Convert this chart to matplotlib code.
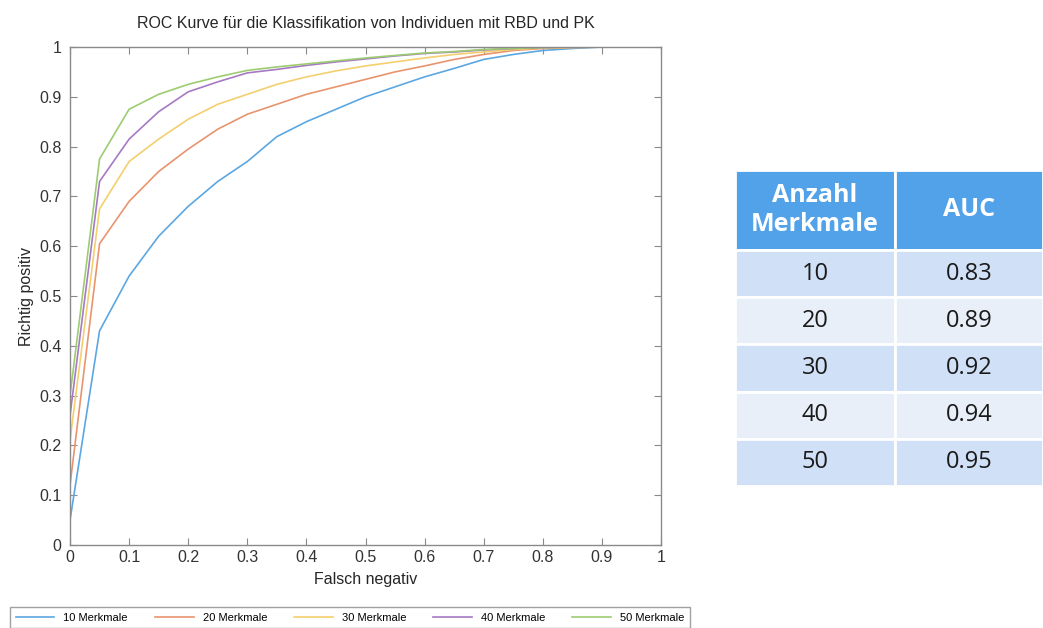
import numpy as np
import matplotlib
matplotlib.use("Agg")
from matplotlib import pyplot as plt
from matplotlib.ticker import FormatStrFormatter

plt.rcParams['font.family'] = ['Liberation Sans', 'DejaVu Sans']

# false negative axis samples
fpr = [0, 0.05, 0.1, 0.15, 0.2, 0.25, 0.3, 0.35, 0.4, 0.45, 0.5,
       0.55, 0.6, 0.65, 0.7, 0.75, 0.8, 0.85, 0.9, 0.95, 1.0]

tpr_10 = [0.05, 0.43, 0.54, 0.62, 0.68, 0.73, 0.77, 0.82, 0.85, 0.875, 0.90,
          0.92, 0.94, 0.957, 0.975, 0.985, 0.993, 0.997, 1.0, 1.0, 1.0]
tpr_20 = [0.12, 0.605, 0.69, 0.75, 0.795, 0.835, 0.865, 0.885, 0.905, 0.92, 0.935,
          0.95, 0.962, 0.975, 0.985, 0.993, 0.997, 0.999, 1.0, 1.0, 1.0]
tpr_30 = [0.21, 0.675, 0.77, 0.815, 0.855, 0.885, 0.905, 0.925, 0.94, 0.952, 0.962,
          0.97, 0.978, 0.985, 0.99, 0.995, 0.998, 0.999, 1.0, 1.0, 1.0]
tpr_40 = [0.26, 0.73, 0.815, 0.87, 0.91, 0.93, 0.948, 0.955, 0.963, 0.97, 0.976,
          0.982, 0.987, 0.99, 0.994, 0.997, 0.999, 1.0, 1.0, 1.0, 1.0]
tpr_50 = [0.30, 0.775, 0.875, 0.905, 0.925, 0.94, 0.953, 0.96, 0.966, 0.972, 0.978,
          0.983, 0.988, 0.991, 0.995, 0.997, 0.999, 1.0, 1.0, 1.0, 1.0]

labels = ['10 Merkmale', '20 Merkmale', '30 Merkmale', '40 Merkmale', '50 Merkmale']
colors = ['#5ba7e2', '#e8946e', '#f3cf6e', '#a679c4', '#9dcc70']

# table data
anzahl = ['10', '20', '30', '40', '50']
auc = ['0.83', '0.89', '0.92', '0.94', '0.95']

fig = plt.figure(figsize=(10.43, 6.28), dpi=100)
W, H = 1043, 628

ax = fig.add_axes([70 / W, 1 - 545 / H, (661 - 70) / W, (545 - 47) / H])
for y, lab, c in zip([tpr_10, tpr_20, tpr_30, tpr_40, tpr_50], labels, colors):
    ax.plot(fpr, y, color=c, lw=1.2, label=lab)

ax.set_xlim(0, 1)
ax.set_ylim(0, 1)
ax.set_xticks(np.arange(0, 1.01, 0.1))
ax.set_yticks(np.arange(0, 1.01, 0.1))
ax.xaxis.set_major_formatter(FormatStrFormatter('%g'))
ax.yaxis.set_major_formatter(FormatStrFormatter('%g'))
ax.tick_params(direction='in', top=True, right=True, length=5, width=0.8,
               color='#8a8a8a', labelcolor='#333333', labelsize=11.5)
ax.tick_params(axis='y', pad=6)
for s in ax.spines.values():
    s.set_color('#8a8a8a')
    s.set_linewidth(1.0)
ax.set_title('ROC Kurve für die Klassifikation von Individuen mit RBD und PK',
             fontsize=11.5, color='#262626', pad=14)
ax.set_xlabel('Falsch negativ', fontsize=11.5, color='#262626', labelpad=5)
ax.set_ylabel('Richtig positiv', fontsize=11.5, color='#262626', labelpad=4)

leg = fig.legend(loc='upper left', bbox_to_anchor=(10 / W, 0, 680 / W, 1 - 607 / H),
                 ncol=5, mode='expand', fontsize=8, frameon=True, fancybox=False,
                 handlelength=3.5, borderaxespad=0, borderpad=0.5)
leg.get_frame().set_edgecolor('#8a8a8a')
leg.get_frame().set_linewidth(1.0)

# table on the right
tab_ax = fig.add_axes([735 / W, 1 - 486 / H, (1043 - 735) / W, (486 - 170) / H])
tab_ax.axis('off')
cell_text = [[a, b] for a, b in zip(anzahl, auc)]
tab = tab_ax.table(cellText=cell_text, colLabels=['Anzahl\nMerkmale', 'AUC'],
                   colWidths=[160 / 308, 148 / 308], bbox=[0, 0, 1, 1],
                   cellLoc='center')
tab.auto_set_font_size(False)
header_h = 80 / 316
row_h = (1 - header_h) / len(anzahl)
for (r, c), cell in tab.get_celld().items():
    cell.set_edgecolor('white')
    cell.set_linewidth(2)
    if r == 0:
        cell.set_height(header_h)
        cell.set_facecolor('#52a2ea')
        cell.get_text().set_color('white')
        cell.get_text().set_fontsize(18)
        cell.get_text().set_fontweight('bold')
        cell.get_text().set_fontfamily('Open Sans')
        cell.get_text().set_linespacing(1.25)
    else:
        cell.set_height(row_h)
        cell.set_facecolor('#d0e0f6' if r % 2 == 1 else '#e8eff9')
        cell.get_text().set_color('#1a1a1a')
        cell.get_text().set_fontsize(17)
        cell.get_text().set_fontfamily('Open Sans')

fig.savefig('out.png', dpi=100)
